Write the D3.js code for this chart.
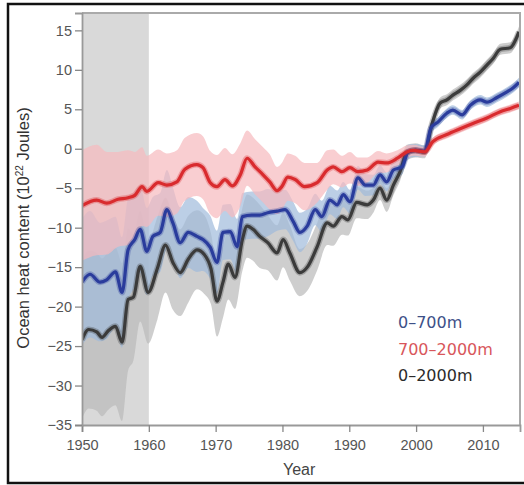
<!DOCTYPE html>
<meta charset="utf-8">
<script src="https://d3js.org/d3.v7.min.js"></script>
<style>
  body { margin: 0; background: #fff; }
</style>
<div id="my_dataviz"></div>
<script>

// 0-700m
var years700 = [1950, 1951.2, 1952.7, 1953.7, 1955, 1956, 1956.9, 1957.9, 1958.7, 1959.7,
  1960.6, 1961.7, 1962.7, 1963.6, 1964.7, 1965.9, 1967.2, 1968.1, 1969.2, 1970.2,
  1971.1, 1972.2, 1973.2, 1974, 1975.4, 1976.6, 1977.8, 1979.2, 1980.4, 1981.6,
  1982.6, 1983.7, 1984.9, 1985.9, 1987.1, 1988.2, 1989.1, 1990.1, 1991.3, 1992.4,
  1993.6, 1994.6, 1995.6, 1996.6, 1997.9, 1998.8, 1999.9, 2001.3, 2002.2, 2003.3,
  2004.6, 2005.5, 2006.9, 2008.1, 2009.6, 2010.6, 2012.1, 2013.6, 2014.5, 2015.4];
var values700 = [-16.9, -15.9, -16.9, -16.6, -15.6, -18.2, -12.8, -11.5, -10.2, -13.0,
  -11.1, -10.6, -7.7, -9.4, -11.9, -10.6, -11.1, -11.5, -12.5, -14.4,
  -10.6, -10.5, -12.4, -8.6, -8.4, -8.4, -8.1, -7.9, -7.7, -9.2,
  -10.6, -9.8, -7.7, -8.6, -6.5, -7.1, -5.8, -6.7, -3.7, -4.6,
  -4.6, -3.3, -4.2, -2.7, -2.3, -0.4, -0.2, -0.3, 2.6, 3.4,
  4.5, 4.9, 4.3, 5.5, 6.2, 5.9, 6.5, 7.2, 7.7, 8.4];
var spread700 = [8, 8, 7.5, 7.5, 7, 7, 6.5, 6, 5.5, 5.5,
  5, 5, 5, 4.5, 4.5, 4.5, 4.5, 4, 4, 4,
  3.5, 3.5, 3.5, 3, 3, 3, 3, 2.5, 2.5, 2.5,
  2.5, 2.2, 2, 2, 1.8, 1.8, 1.6, 1.5, 1.5, 1.4,
  1.3, 1.2, 1.2, 1.1, 1, 0.9, 0.8, 0.7, 0.7, 0.6,
  0.6, 0.6, 0.6, 0.6, 0.6, 0.6, 0.6, 0.6, 0.6, 0.6];

// 700-2000m
var years2000 = [1950, 1952.2, 1953.7, 1955.4, 1956.9, 1957.9, 1959, 1959.7, 1961.4, 1962.7,
  1964.2, 1965.4, 1967.2, 1968.1, 1969.2, 1970.2, 1971.4, 1972.5, 1973.7, 1974.7,
  1975.9, 1977.1, 1978.1, 1979.2, 1979.9, 1980.8, 1981.9, 1983.3, 1985.2, 1986.7,
  1987.6, 1988.9, 1990.1, 1991.3, 1992.7, 1994.3, 1995.6, 1997.2, 1998.6, 1999.6,
  2001.3, 2002.5, 2004.6, 2006.5, 2008.5, 2010.6, 2012.6, 2014.1, 2015.4];
var values2000 = [-7.2, -6.5, -6.9, -6.4, -6.2, -5.9, -4.8, -5.4, -4.3, -4.6,
  -4.2, -2.6, -2.0, -2.4, -4.3, -4.8, -3.9, -4.7, -3.3, -1.2,
  -2.3, -3.3, -4.2, -5.3, -4.8, -3.6, -3.9, -4.8, -4.3, -2.7,
  -2.3, -2.9, -2.4, -2.9, -2.7, -1.7, -1.8, -1.2, -0.4, -0.2,
  -0.4, 0.9, 1.8, 2.5, 3.2, 3.9, 4.7, 5.1, 5.5];
var spread2000 = [7, 7, 6.5, 6, 6, 5.5, 5, 4.5, 4.2, 4,
  4, 4, 4, 4, 4, 4, 4, 4, 4, 3.5,
  3.5, 3.5, 3.5, 3, 3, 3, 3, 3, 2.5, 2.5,
  2.2, 2, 2, 1.8, 1.6, 1.4, 1.2, 1, 0.8, 0.7,
  0.6, 0.5, 0.5, 0.5, 0.5, 0.5, 0.5, 0.5, 0.5];

// 0-2000m
var yearsTotal = [1950, 1951, 1952.2, 1953, 1953.9, 1955, 1956, 1956.9, 1957.7, 1958.7,
  1959.9, 1961.3, 1962.5, 1963.6, 1964.7, 1965.9, 1967.2, 1968.3, 1969.3, 1970.2,
  1971.1, 1971.9, 1972.9, 1974, 1974.7, 1975.6, 1976.6, 1977.8, 1979.2, 1980.1,
  1981.1, 1982.6, 1983.8, 1985.2, 1986.7, 1987.6, 1988.9, 1989.8, 1991.1, 1992.7,
  1993.6, 1994.6, 1995.6, 1996.6, 1997.6, 1998.6, 1999.9, 2001.3, 2002.4, 2003.6,
  2004.6, 2005.5, 2006.6, 2007.6, 2008.5, 2009.6, 2010.6, 2011.5, 2012.6, 2014.1, 2015.4];
var valuesTotal = [-24.2, -22.9, -23.2, -23.9, -23.1, -22.5, -24.5, -19.1, -18.8, -14.9,
  -18.2, -15.1, -12.2, -14.4, -15.7, -14.0, -12.8, -13.4, -15.2, -19.3,
  -16.9, -14.6, -16.3, -11.5, -9.8, -10.2, -11.1, -11.9, -13.2, -11.5,
  -13.2, -15.7, -14.9, -12.4, -9.4, -9.8, -8.6, -9.0, -6.8, -7.1,
  -6.5, -5.0, -6.5, -4.6, -2.9, -0.5, -0.2, -0.4, 3.2, 5.8,
  6.2, 6.8, 7.4, 8.1, 8.9, 9.7, 10.6, 11.4, 12.6, 12.8, 14.8];
var spreadTotal = [10, 10, 10, 10, 10, 10, 10, 9, 8, 7,
  6.5, 6.5, 6, 6, 5.5, 5.5, 5, 5, 4.5, 4.5,
  4.5, 4.5, 4, 4, 4, 4, 4, 3.5, 3.5, 3.5,
  3.5, 3, 3, 3, 2.8, 2.5, 2.3, 2, 2, 1.8,
  1.6, 1.5, 1.5, 1.3, 1.2, 1, 0.9, 0.8, 0.7, 0.7,
  0.7, 0.7, 0.7, 0.7, 0.7, 0.7, 0.7, 0.7, 0.7, 0.7, 0.7];

var shadedYears = [1950, 1960];
var xTicks = [1950, 1960, 1970, 1980, 1990, 2000, 2010];
var yTicks = [-35, -30, -25, -20, -15, -10, -5, 0, 5, 10, 15];
var legendLabels = ["0\u2013700m", "700\u20132000m", "0\u20132000m"];

// dimensions
var margin = {top: 13, right: 4, bottom: 60, left: 82},
    width = 524 - margin.left - margin.right,
    height = 485 - margin.top - margin.bottom;

var svg = d3.select("#my_dataviz")
  .append("svg")
    .attr("width", 524)
    .attr("height", 485);

// outer frame
svg.append("rect")
  .attr("x", 8).attr("y", 4)
  .attr("width", 530).attr("height", 479)
  .attr("fill", "none")
  .attr("stroke", "#111")
  .attr("stroke-width", 2.5);

var g = svg.append("g")
  .attr("transform", "translate(" + margin.left + "," + margin.top + ")");

var x = d3.scaleLinear()
  .domain([1950, 2015.55])
  .range([0, width]);

var y = d3.scaleLinear()
  .domain([-35, 17.2])
  .range([height, 0]);

g.append("clipPath").attr("id", "clip")
  .append("rect").attr("width", width).attr("height", height);

var plot = g.append("g").attr("clip-path", "url(#clip)");

// grey period
plot.append("rect")
  .attr("x", x(shadedYears[0]))
  .attr("y", 0)
  .attr("width", x(shadedYears[1]) - x(shadedYears[0]))
  .attr("height", height)
  .attr("fill", "#d9d9d9");

function makeSeries(years, values, spread) {
  return years.map(function(d, i) { return {year: d, value: values[i], spread: spread[i]}; });
}

var series = [
  {data: makeSeries(yearsTotal, valuesTotal, spreadTotal), band: "#b9b9b9", bandOpacity: 0.7, line: "#3b3b3b"},
  {data: makeSeries(years700, values700, spread700), band: "#9fbadc", bandOpacity: 0.7, line: "#2a3c9c"},
  {data: makeSeries(years2000, values2000, spread2000), band: "#f7b9be", bandOpacity: 0.7, line: "#d92b2e"}
];

var area = d3.area()
  .curve(d3.curveMonotoneX)
  .x(function(d) { return x(d.year); })
  .y0(function(d) { return y(d.value - d.spread); })
  .y1(function(d) { return y(d.value + d.spread); });

var line = d3.line()
  .curve(d3.curveMonotoneX)
  .x(function(d) { return x(d.year); })
  .y(function(d) { return y(d.value); });

series.forEach(function(s) {
  plot.append("path")
    .datum(s.data)
    .attr("d", area)
    .attr("fill", s.band)
    .attr("fill-opacity", s.bandOpacity);
});

series.forEach(function(s) {
  plot.append("path")
    .datum(s.data)
    .attr("d", line)
    .attr("fill", "none")
    .attr("stroke", s.line)
    .attr("stroke-opacity", 0.3)
    .attr("stroke-width", 6);
  plot.append("path")
    .datum(s.data)
    .attr("d", line)
    .attr("fill", "none")
    .attr("stroke", s.line)
    .attr("stroke-width", 3.2)
    .attr("stroke-linejoin", "round");
});

// frame top and right
g.append("path")
  .attr("d", "M0,0H" + width + "V" + height)
  .attr("fill", "none")
  .attr("stroke", "#aaa")
  .attr("stroke-width", 2);

// axes
var xAxis = g.append("g")
  .attr("transform", "translate(0," + height + ")")
  .call(d3.axisBottom(x).tickValues(xTicks).tickFormat(d3.format("d")).tickSize(7).tickPadding(8));

var yAxis = g.append("g")
  .call(d3.axisLeft(y).tickValues(yTicks).tickSize(7).tickPadding(3));

[xAxis, yAxis].forEach(function(a) {
  a.select(".domain").attr("stroke", "#999").attr("stroke-width", 1.8);
  a.selectAll(".tick line").attr("stroke", "#888").attr("stroke-width", 1.3);
  a.selectAll(".tick text")
    .attr("fill", "#555")
    .style("font-family", "'Liberation Sans', Arial, sans-serif")
    .style("font-size", "14.5px");
});

// axis titles
svg.append("text")
  .attr("x", margin.left + x(1982.5))
  .attr("y", 475)
  .attr("text-anchor", "middle")
  .attr("fill", "#444")
  .style("font-family", "'Liberation Sans', Arial, sans-serif")
  .style("font-size", "16px")
  .text("Year");

var yTitle = svg.append("text")
  .attr("transform", "translate(29,228) rotate(-90)")
  .attr("text-anchor", "middle")
  .attr("fill", "#333")
  .style("font-family", "'Liberation Sans', Arial, sans-serif")
  .style("font-size", "16.5px");
yTitle.append("tspan").text("Ocean heat content (10");
yTitle.append("tspan").attr("dy", -6).style("font-size", "10px").text("22");
yTitle.append("tspan").attr("dy", 6).text(" Joules)");

// legend
var legendColors = ["#3d5088", "#d8565b", "#2b2b2b"];
svg.selectAll(".legend")
  .data(legendLabels)
  .enter()
  .append("text")
    .attr("class", "legend")
    .attr("x", 398)
    .attr("y", function(d, i) { return 328 + i * 26.5; })
    .attr("fill", function(d, i) { return legendColors[i]; })
    .style("font-family", "'DejaVu Sans', sans-serif")
    .style("font-size", "16px")
    .text(function(d) { return d; });

</script>
